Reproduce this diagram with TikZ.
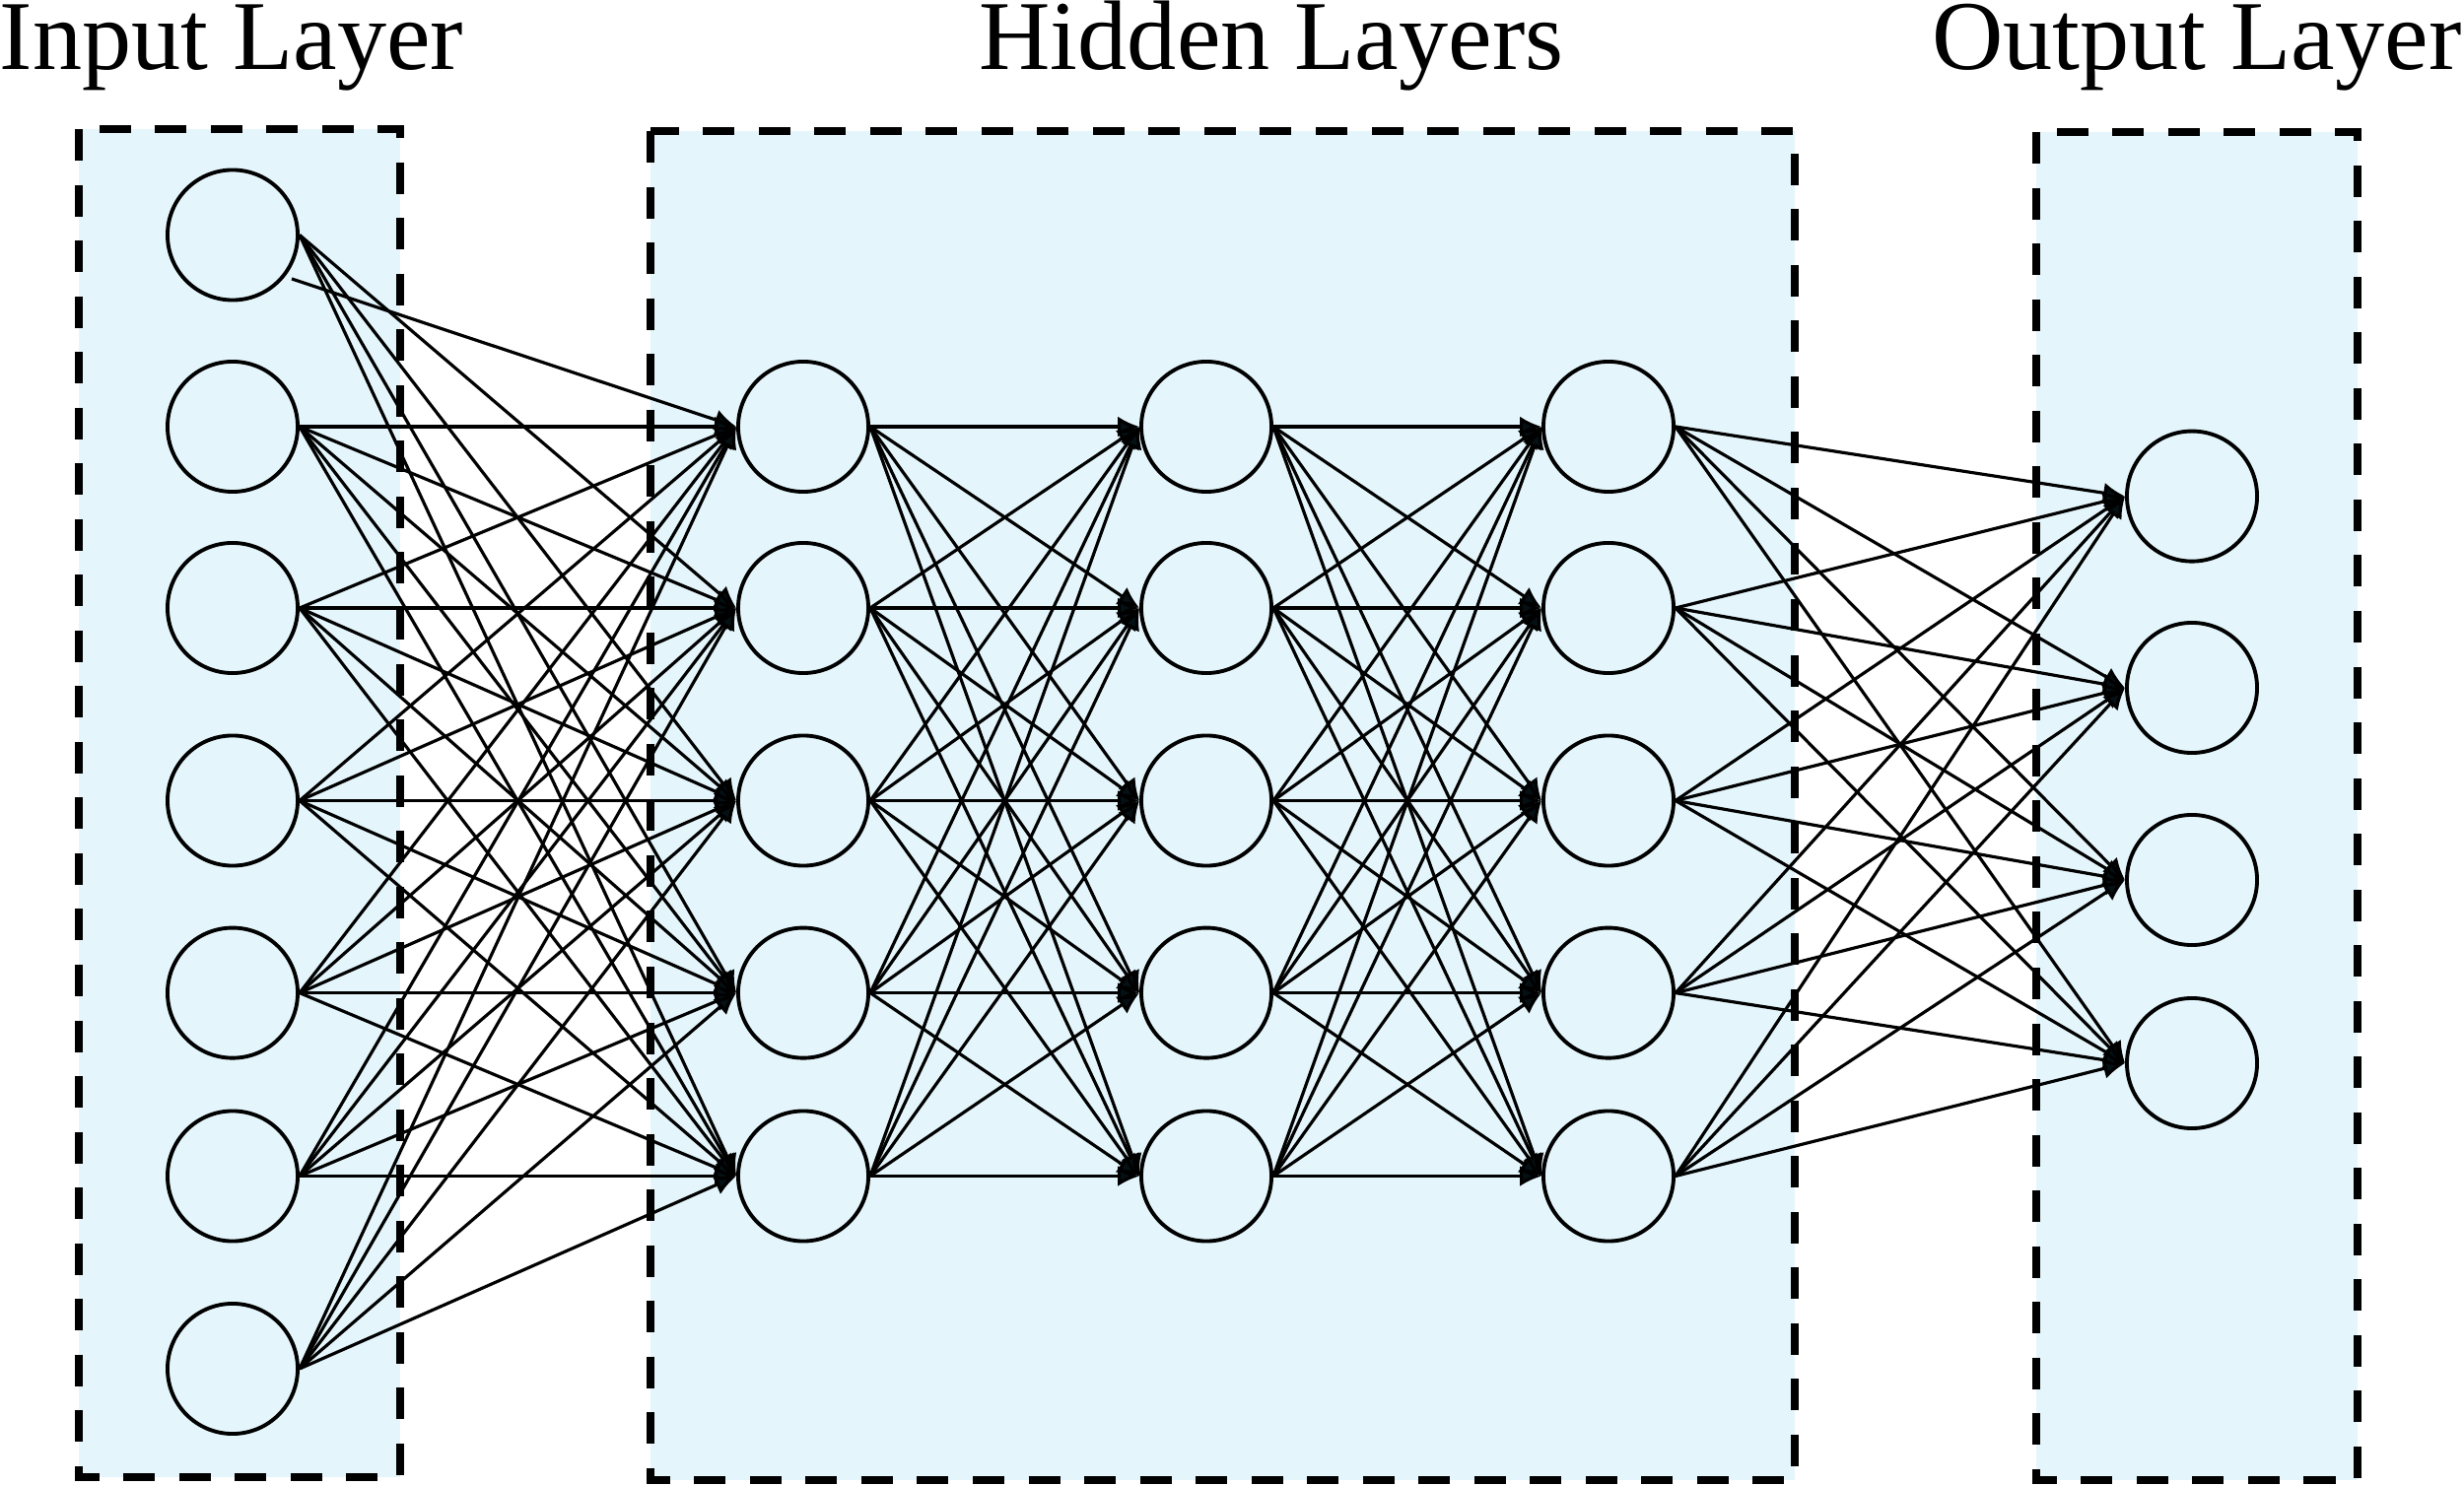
\documentclass[tikz,border=0pt]{standalone}
\usepackage{fontspec}
\setmainfont{Liberation Serif}
\usetikzlibrary{arrows.meta}
\definecolor{panel}{RGB}{228,246,252}
\definecolor{ink}{RGB}{4,16,20}
\begin{document}
\begin{tikzpicture}[x=0.01cm,y=-0.01cm,
  neuron/.style={circle,draw=black,line width=1.1pt,minimum size=1.32cm,inner sep=0pt},
  conn/.style={draw=black,line width=0.9pt,-{Latex[length=0.22cm,width=0.21cm,fill=ink]}},
  panelfill/.style={fill=panel},
  panelborder/.style={draw=black,line width=2.2pt,dash pattern=on 0.32cm off 0.245cm},
  title/.style={inner sep=0pt,font=\fontsize{28.5}{34}\selectfont}]
\useasboundingbox (0,0) rectangle (2500,1507);
% panels (fill)
\path[panelfill] (80,131) rectangle (406,1499);
\path[panelfill] (660,133) rectangle (1821,1502);
\path[panelfill] (2066,134) rectangle (2392,1502);
% titles
\node[title,anchor=base west] (tin) at (-1,71) {Input Layer};
\node[title,anchor=base] (thid) at (1290,71) {Hidden Layers};
\node[title,anchor=base east] (tout) at (2498,71) {Output Layer};
% neurons
\foreach \y [count=\i] in {238.5,433,617,812.5,1007.6,1193.5,1389}
  \node[neuron] (in\i) at (236,\y) {};
\foreach \y [count=\i] in {433,617,812.5,1007.6,1193.5}{
  \node[neuron] (ha\i) at (815,\y) {};
  \node[neuron] (hb\i) at (1224,\y) {};
  \node[neuron] (hc\i) at (1632,\y) {};
}
\foreach \y [count=\i] in {503.6,698,893,1079}
  \node[neuron] (out\i) at (2224,\y) {};
% connectors input -> hidden 1
\coordinate (in1low) at (296,283);
\draw[conn] (in1low) -- (ha1.west);
\foreach \i in {1,...,7}{
  \foreach \j in {1,...,5}{
    \ifnum\i\j=11\else
      \draw[conn] (in\i.east) -- (ha\j.west);
    \fi
  }
}
% hidden 1 -> hidden 2 -> hidden 3
\foreach \i in {1,...,5}{
  \foreach \j in {1,...,5}{
    \draw[conn] (ha\i.east) -- (hb\j.west);
    \draw[conn] (hb\i.east) -- (hc\j.west);
  }
}
% hidden 3 -> output
\foreach \i in {1,...,5}{
  \foreach \j in {1,...,4}{
    \draw[conn] (hc\i.east) -- (out\j.west);
  }
}
% panel borders
\draw[panelborder] (80,131) rectangle (406,1499);
\draw[panelborder] (660,133) rectangle (1821,1502);
\draw[panelborder] (2066,134) rectangle (2392,1502);
\end{tikzpicture}
\end{document}
